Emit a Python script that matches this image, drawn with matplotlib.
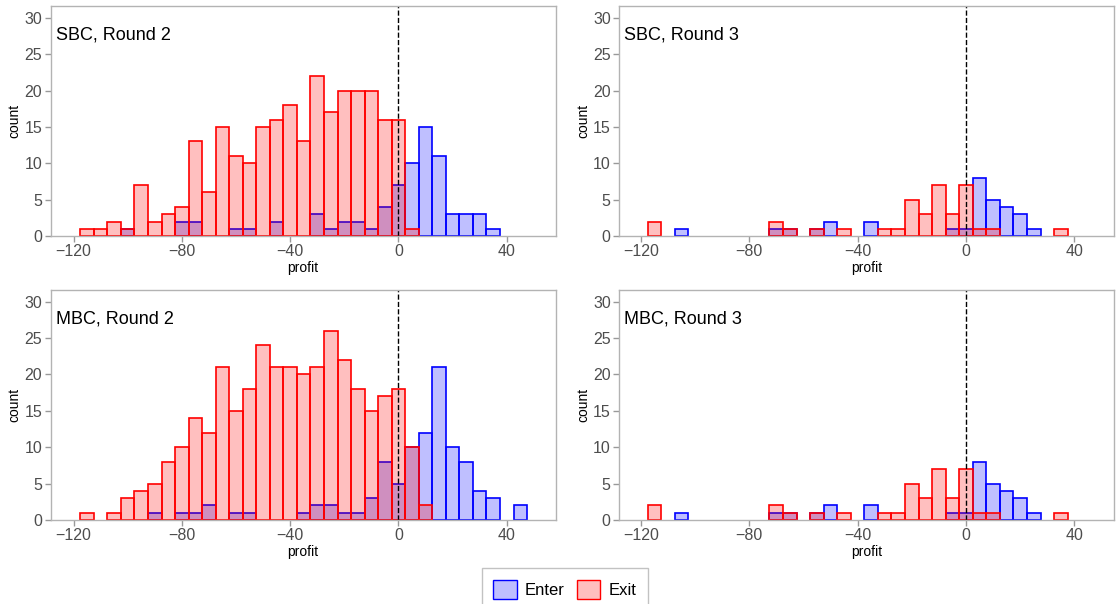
import numpy as np
import matplotlib
matplotlib.use("Agg")
import matplotlib.pyplot as plt
from matplotlib.patches import Patch

plt.rcParams['font.family'] = ['Liberation Sans', 'DejaVu Sans']

# SBC, Round 2
sbc2_exit_x = [-115, -110, -105, -100, -95, -90, -85, -80, -75, -70, -65, -60, -55,
               -50, -45, -40, -35, -30, -25, -20, -15, -10, -5, 0, 5]
sbc2_exit_n = [1, 1, 2, 1, 7, 2, 3, 4, 13, 6, 15, 11, 10, 15, 16, 18, 13, 22, 17, 20, 20, 20, 16, 16, 1]
sbc2_enter_x = [-100, -80, -75, -60, -55, -45, -30, -25, -20, -15, -10, -5, 0, 5, 10, 15, 20, 25, 30, 35]
sbc2_enter_n = [1, 2, 2, 1, 1, 2, 3, 1, 2, 2, 1, 4, 7, 10, 15, 11, 3, 3, 3, 1]

# MBC, Round 2
mbc2_exit_x = [-115, -105, -100, -95, -90, -85, -80, -75, -70, -65, -60, -55, -50,
               -45, -40, -35, -30, -25, -20, -15, -10, -5, 0, 5, 10]
mbc2_exit_n = [1, 1, 3, 4, 5, 8, 10, 14, 12, 21, 15, 18, 24, 21, 21, 20, 21, 26, 22, 18, 15, 17, 18, 10, 2]
mbc2_enter_x = [-90, -80, -75, -70, -60, -55, -35, -30, -25, -20, -15, -10, -5, 0, 5, 10, 15, 20, 25, 30, 35, 45]
mbc2_enter_n = [1, 1, 1, 2, 1, 1, 1, 2, 2, 1, 1, 3, 8, 5, 10, 12, 21, 10, 8, 4, 3, 2]

# Round 3 (same in SBC and MBC)
r3_exit_x = [-115, -70, -65, -55, -45, -30, -25, -20, -15, -10, -5, 0, 5, 10, 35]
r3_exit_n = [2, 2, 1, 1, 1, 1, 1, 5, 3, 7, 3, 7, 1, 1, 1]
r3_enter_x = [-105, -70, -65, -55, -50, -35, -5, 0, 5, 10, 15, 20, 25]
r3_enter_n = [1, 1, 1, 1, 2, 2, 1, 1, 8, 5, 4, 3, 1]

panels = [
    ("SBC, Round 2", sbc2_enter_x, sbc2_enter_n, sbc2_exit_x, sbc2_exit_n, [0.0453, 0.609, 0.4525, 0.381], (-128.5, 58)),
    ("SBC, Round 3", r3_enter_x, r3_enter_n, r3_exit_x, r3_exit_n, [0.5547, 0.609, 0.4435, 0.381], (-128, 54.6)),
    ("MBC, Round 2", mbc2_enter_x, mbc2_enter_n, mbc2_exit_x, mbc2_exit_n, [0.0453, 0.139, 0.4525, 0.381], (-128.5, 58)),
    ("MBC, Round 3", r3_enter_x, r3_enter_n, r3_exit_x, r3_exit_n, [0.5547, 0.139, 0.4435, 0.381], (-128, 54.6)),
]

enter_fill = (0, 0, 1, 0.25)
exit_fill = (1, 0, 0, 0.25)

fig = plt.figure(figsize=(11.16, 6.04), dpi=100)

for title, ex, en, xx, xn, rect, xl in panels:
    ax = fig.add_axes(rect)
    ax.bar(ex, en, width=5, color=enter_fill, edgecolor='blue', linewidth=1.2)
    ax.bar(xx, xn, width=5, color=exit_fill, edgecolor='red', linewidth=1.2)
    ax.axvline(0, color='black', linestyle='--', linewidth=1)
    ax.set_xlim(*xl)
    ax.set_ylim(0, 31.6)
    ax.set_xticks([-120, -80, -40, 0, 40])
    ax.set_yticks([0, 5, 10, 15, 20, 25, 30])
    ax.tick_params(colors='#4d4d4d', labelsize=11.5, length=4, width=1, pad=2)
    ax.tick_params(axis='both', color='#999999')
    for s in ax.spines.values():
        s.set_color('#b3b3b3')
        s.set_linewidth(1)
    ax.set_xlabel('profit', fontsize=10, labelpad=1)
    ax.set_ylabel('count', fontsize=10, labelpad=2)
    ax.text(0.01, 0.872, title, transform=ax.transAxes, fontsize=13, va='center', ha='left')

handles = [Patch(facecolor=enter_fill, edgecolor='blue', label='Enter'),
           Patch(facecolor=exit_fill, edgecolor='red', label='Exit')]
leg = fig.legend(handles=handles, loc='lower center', bbox_to_anchor=(0.506, -0.025), ncol=2,
                 fontsize=12, frameon=True, fancybox=False, handlelength=1.4, handleheight=1.4,
                 columnspacing=0.7, handletextpad=0.5, borderpad=0.7)
leg.get_frame().set_edgecolor('#b3b3b3')
leg.get_frame().set_linewidth(1)

fig.savefig('out.png', dpi=100)
